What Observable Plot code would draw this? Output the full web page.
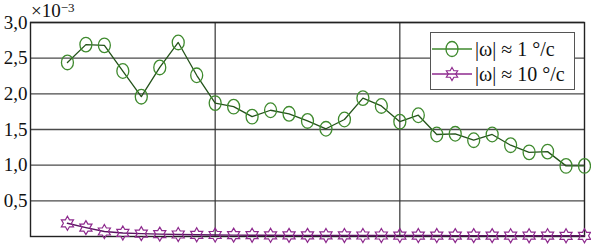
<!DOCTYPE html>
<html><head><meta charset="utf-8">
<script src="https://cdn.jsdelivr.net/npm/d3@7"></script>
<script src="https://cdn.jsdelivr.net/npm/@observablehq/plot@0.6"></script>
<style>
body{margin:0;background:#fff;}
#wrap{position:relative;width:591px;height:246px;font-family:"Liberation Serif",serif;}
#mult{position:absolute;left:31px;top:1px;font-size:19px;line-height:19px;color:#111;}
#mult sup{font-size:13px;position:relative;top:-3px;vertical-align:top;}
#legend{position:absolute;left:430px;top:32px;width:145px;height:58px;border:1.5px solid #555;background:#fff;box-sizing:border-box;font-size:20px;color:#111;}
.row{position:absolute;left:0;height:24px;display:flex;align-items:center;}
.row svg{margin-left:1px;}
.row span{margin-left:3px;white-space:nowrap;}
</style></head>
<body><div id="wrap"><div id="chart"></div>
<div id="mult">×10<sup>−3</sup></div>
<div id="legend">
 <div class="row" style="top:4px"><svg width="40" height="20"><line x1="0" y1="10" x2="40" y2="10" stroke="#3f8a2e" stroke-width="1.3"/><ellipse cx="20" cy="10" rx="6" ry="7.5" fill="none" stroke="#3f8a2e" stroke-width="1.3"/></svg><span>|ω| ≈ 1 °/c</span></div>
 <div class="row" style="top:29px"><svg width="40" height="20"><line x1="0" y1="10" x2="40" y2="10" stroke="#8e2a8e" stroke-width="1.3"/><path id="lstar" fill="none" stroke="#8e2a8e" stroke-width="1.2"/></svg><span>|ω| ≈ 10 °/c</span></div>
</div>
</div>
<script>
const xs = [2,3,4,5,6,7,8,9,10,11,12,13,14,15,16,17,18,19,20,21,22,23,24,25,26,27,28,29,30];
const slow = [2.44,2.69,2.68,2.32,1.96,2.37,2.72,2.26,1.87,1.82,1.68,1.77,1.72,1.62,1.51,1.64,1.94,1.83,1.61,1.70,1.43,1.44,1.35,1.43,1.28,1.18,1.19,0.99,0.99];
const fast = [0.185,0.125,0.07,0.05,0.04,0.033,0.028,0.024,0.021,0.019,0.018,0.017,0.016,0.016,0.015,0.015,0.014,0.014,0.013,0.013,0.013,0.012,0.012,0.012,0.011,0.011,0.011,0.010,0.010];
const yTicks = [0.5,1.0,1.5,2.0,2.5,3.0];
const xGrid = [10,20];

const green = "#3f8a2e", greenLine = "#24531a";
const purple = "#8e2a8e", purpleLine = "#5c1462";

function starPath(ctx, R){
  const r = R/Math.sqrt(3);
  for(let k=0;k<12;k++){
    const a = -Math.PI/2 + k*Math.PI/6;
    const rr = k%2===0 ? R : r;
    const x = rr*Math.cos(a), y = rr*Math.sin(a);
    k===0 ? ctx.moveTo(x,y) : ctx.lineTo(x,y);
  }
  ctx.closePath();
}
const hexagram = {draw(ctx,size){ starPath(ctx, Math.sqrt(size/Math.PI)); }};
const ellipse = {draw(ctx,size){
  const R = Math.sqrt(size/Math.PI), rx = R*0.82, ry = R, k = 0.5523;
  ctx.moveTo(rx,0);
  ctx.bezierCurveTo(rx, ry*k, rx*k, ry, 0, ry);
  ctx.bezierCurveTo(-rx*k, ry, -rx, ry*k, -rx, 0);
  ctx.bezierCurveTo(-rx, -ry*k, -rx*k, -ry, 0, -ry);
  ctx.bezierCurveTo(rx*k, -ry, rx, -ry*k, rx, 0);
  ctx.closePath();
}};

{ const p = d3.path(); const c={moveTo:(x,y)=>p.moveTo(x+20,y+10),lineTo:(x,y)=>p.lineTo(x+20,y+10),closePath:()=>p.closePath()}; starPath(c,6.5); document.getElementById("lstar").setAttribute("d",p.toString()); }

const rowsA = xs.map((x,i)=>({x, y: slow[i]}));
const rowsB = xs.map((x,i)=>({x, y: fast[i]}));

const chart = Plot.plot({
  width: 591, height: 246,
  marginLeft: 30, marginRight: 7, marginTop: 22, marginBottom: 10,
  style: {fontFamily: '"Liberation Serif",serif', fontSize: "19px", color: "#111", background: "transparent"},
  x: {domain: [0,30], axis: null},
  y: {domain: [0,3], axis: null},
  marks: [
    Plot.ruleY(yTicks, {stroke: "#4a4a4a", strokeWidth: 1.4}),
    Plot.ruleX(xGrid, {stroke: "#333", strokeWidth: 1.2}),
    Plot.frame({stroke: "#222", strokeWidth: 1.4}),
    Plot.axisY(yTicks, {tickSize: 0, tickPadding: 3, tickFormat: d => d.toFixed(1).replace(".", ","), fontSize: 19, fontFamily: '"Liberation Serif",serif', label: null}),
    Plot.line(rowsB, {x: "x", y: "y", stroke: purpleLine, strokeWidth: 1.4}),
    Plot.dot(rowsB, {x: "x", y: "y", symbol: hexagram, r: 7, stroke: purple, strokeWidth: 1.2, fill: "none"}),
    Plot.line(rowsA, {x: "x", y: "y", stroke: greenLine, strokeWidth: 1.3}),
    Plot.dot(rowsA, {x: "x", y: "y", symbol: ellipse, r: 7.3, stroke: green, strokeWidth: 1.3, fill: "none"})
  ]
});
document.getElementById("chart").appendChild(chart);
</script>
</body></html>
